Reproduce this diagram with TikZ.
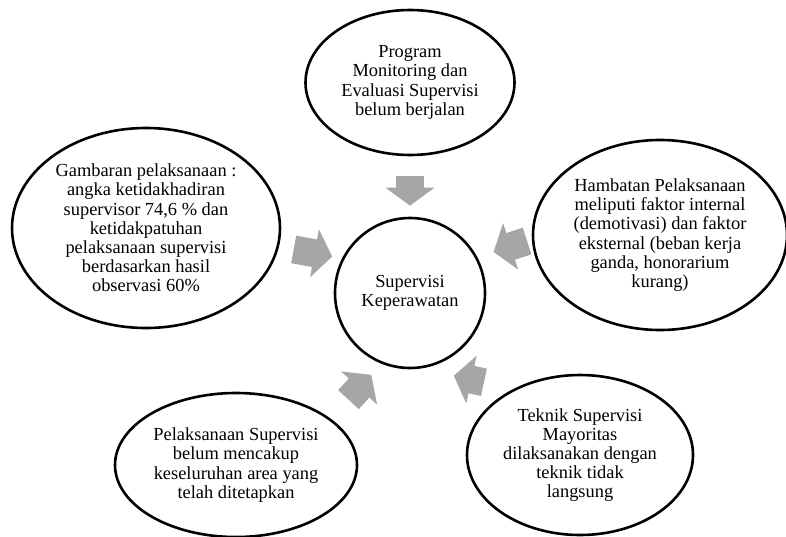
\documentclass[tikz,border=0pt]{standalone}
\usepackage{fontspec}
\setmainfont{Liberation Serif}
\usepackage{tikz}
\usetikzlibrary{arrows.meta,shapes.geometric}
\definecolor{arrgray}{RGB}{166,166,166}

\begin{document}
\begin{tikzpicture}[
  x=1pt, y=-1pt,
  hubc/.style={draw, circle, line width=2.6pt, minimum size=150pt, inner sep=0pt, align=center, font=\fontsize{18.4pt}{19.2pt}\selectfont},
  bub/.style={draw, ellipse, line width=2.6pt, inner sep=0pt, align=center, font=\fontsize{18.4pt}{19.2pt}\selectfont},
  arr/.style={arrgray, line width=28pt, -{Triangle[width=48pt, length=18pt]}}
]
\useasboundingbox (0,0) rectangle (786,536);
\node[hubc] (c) at (410,293) {Supervisi\\Keperawatan};
\node[bub, minimum width=209pt, minimum height=145pt] (s1) at (410,82.5) {Program\\Monitoring dan\\Evaluasi Supervisi\\belum berjalan};
\node[bub, minimum width=254pt, minimum height=190pt] (s2) at (660,235) {Hambatan Pelaksanaan\\meliputi faktor internal\\(demotivasi) dan faktor\\eksternal (beban kerja\\ganda, honorarium\\kurang)};
\node[bub, minimum width=226pt, minimum height=160pt] (s3) at (580,455) {Teknik Supervisi\\Mayoritas\\dilaksanakan dengan\\teknik tidak\\langsung};
\node[bub, minimum width=242pt, minimum height=144pt] (s4) at (236,465) {Pelaksanaan Supervisi\\belum mencakup\\keseluruhan area yang\\telah ditetapkan};
\node[bub, minimum width=268pt, minimum height=200pt] (s5) at (146,228) {Gambaran pelaksanaan :\\angka ketidakhadiran\\supervisor 74,6 \% dan\\ketidakpatuhan\\pelaksanaan supervisi\\berdasarkan hasil\\observasi 60\%};
\foreach \i/\a/\b/\s/\t in {1/-90/90/20pt/11pt, 2/182/28/5pt/17pt, 3/135/-82/30.5pt/34pt, 4/26/-112/26pt/15pt, 5/-8/153/15pt/10pt}
  {\draw[arr, shorten <=\s, shorten >=\t] (s\i.\a) -- (c.\b);}
\end{tikzpicture}
\end{document}
